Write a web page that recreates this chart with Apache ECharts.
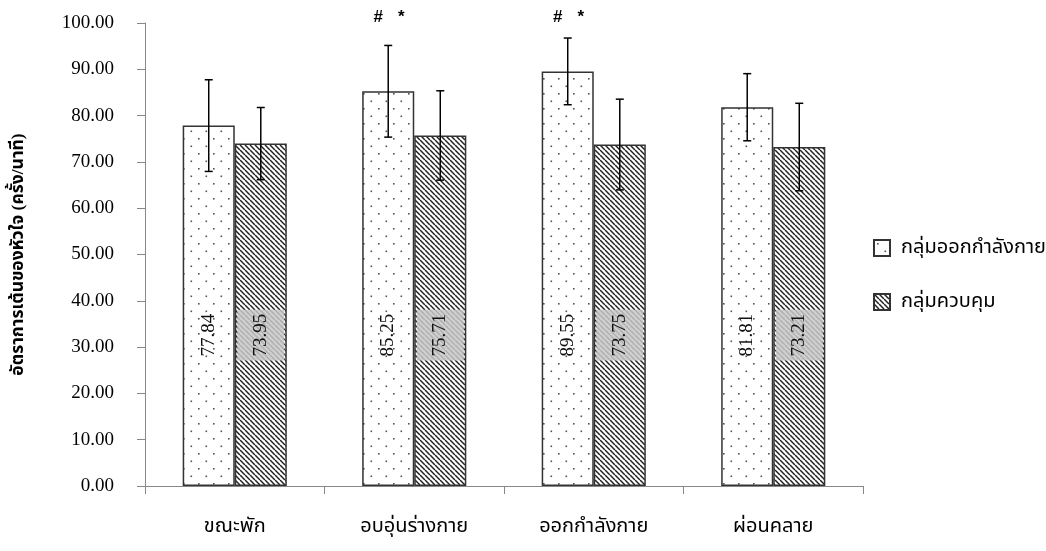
<!DOCTYPE html>
<html>
<head>
<meta charset="utf-8">
<script src="https://cdn.jsdelivr.net/npm/echarts@6/dist/echarts.min.js"></script>
<style>html,body{margin:0;padding:0;background:#fff}#c{width:1046px;height:551px}</style>
</head>
<body>
<div id="c"></div>
<script>
var categories = ['ขณะพัก', 'อบอุ่นร่างกาย', 'ออกกำลังกาย', 'ผ่อนคลาย'];
var seriesNames = ['กลุ่มออกกำลังกาย', 'กลุ่มควบคุม'];
var exerciseMean = [77.84, 85.25, 89.55, 81.81];
var controlMean = [73.95, 75.71, 73.75, 73.21];
var exerciseSD = [9.9, 9.9, 7.2, 7.25];
var controlSD = [7.8, 9.65, 9.8, 9.45];
var annotations = ['', '# *', '# *', ''];
var yTicks = [0, 10, 20, 30, 40, 50, 60, 70, 80, 90, 100];

var FONT = "'Liberation Serif', 'Times New Roman', 'Noto Sans Thai', 'Loma', serif";

function dotPattern() {
  var c = document.createElement('canvas');
  c.width = 15; c.height = 15;
  var g = c.getContext('2d');
  g.fillStyle = '#fff'; g.fillRect(0, 0, 15, 15);
  g.fillStyle = '#555';
  g.fillRect(3, 3, 1.6, 1.6);
  g.fillRect(10.5, 10.5, 1.6, 1.6);
  return c;
}
function hatchPattern() {
  var c = document.createElement('canvas');
  c.width = 5; c.height = 5;
  var g = c.getContext('2d');
  g.fillStyle = '#fff'; g.fillRect(0, 0, 5, 5);
  g.strokeStyle = '#222'; g.lineWidth = 1.5;
  [-5, 0, 5].forEach(function (o) {
    g.beginPath(); g.moveTo(o, 0); g.lineTo(o + 5, 5); g.stroke();
  });
  return c;
}

var chart = echarts.init(document.getElementById('c'));
var barGapRatio = 0.42;

function errorRender(seriesIdx) {
  return function (params, api) {
    var i = api.value(0);
    var m = api.value(1), s = api.value(2);
    var catW = api.size([1, 0])[0];
    var bw = catW * (1 - barGapRatio) / 2;
    var base = api.coord([i, m]);
    var x = base[0] + (seriesIdx === 0 ? -bw / 2 : bw / 2);
    var top = api.coord([i, m + s])[1];
    var bot = api.coord([i, m - s])[1];
    var cap = 4;
    var st = { stroke: '#000', lineWidth: 1.5 };
    var children = [
      { type: 'line', shape: { x1: x, y1: top, x2: x, y2: bot }, style: st },
      { type: 'line', shape: { x1: x - cap, y1: top, x2: x + cap, y2: top }, style: st },
      { type: 'line', shape: { x1: x - cap, y1: bot, x2: x + cap, y2: bot }, style: st }
    ];
    var ann = annotations[i];
    if (seriesIdx === 0 && ann) {
      var parts = ann.split(' ');
      var ay = api.coord([i, 101.2])[1];
      var f = "bold 17px 'Liberation Sans', Arial, sans-serif";
      children.push({ type: 'text', style: { text: parts[0], x: x - 10, y: ay, align: 'center', verticalAlign: 'middle', font: f, fill: '#000' } });
      children.push({ type: 'text', style: { text: parts[1], x: x + 13, y: ay, align: 'center', verticalAlign: 'middle', font: f, fill: '#000' } });
    }
    return { type: 'group', children: children };
  };
}

var labelCommon = {
  show: true, position: 'insideBottom', distance: 151, rotate: 90,
  align: 'center', verticalAlign: 'middle',
  fontFamily: FONT, fontSize: 19, color: '#111',
  formatter: function (p) { return p.value.toFixed(2); }
};

chart.setOption({
  animation: false,
  backgroundColor: '#fff',
  grid: { left: 145, right: 183, top: 23, bottom: 65 },
  legend: {
    orient: 'vertical', left: 868, top: 233, itemWidth: 16, itemHeight: 16, itemGap: 34,
    icon: 'rect',
    textStyle: { fontFamily: FONT, fontSize: 20, color: '#000', padding: [0, 0, 0, 6] },
    data: seriesNames
  },
  xAxis: {
    type: 'category', data: categories,
    axisLine: { lineStyle: { color: '#888', width: 1 } },
    axisTick: { show: true, length: 8, lineStyle: { color: '#888' } },
    axisLabel: { margin: 31, fontFamily: FONT, fontSize: 20, color: '#000' }
  },
  yAxis: {
    type: 'value', min: 0, max: 100, interval: 10,
    name: 'อัตราการเต้นของหัวใจ (ครั้ง/นาที)', nameLocation: 'middle', nameGap: 118,
    nameTextStyle: { fontFamily: FONT, fontSize: 17.5, fontWeight: 'bold', color: '#000' },
    axisLine: { show: true, lineStyle: { color: '#888', width: 1 } },
    axisTick: { show: true, length: 8, lineStyle: { color: '#888' } },
    splitLine: { show: false },
    axisLabel: { margin: 31, fontFamily: FONT, fontSize: 19, color: '#000',
      formatter: function (v) { return yTicks.indexOf(v) >= 0 ? v.toFixed(2) : ''; } }
  },
  series: [
    {
      name: seriesNames[0], type: 'bar', data: exerciseMean,
      barGap: '0%', barCategoryGap: '42%',
      itemStyle: { color: { image: dotPattern(), repeat: 'repeat' }, borderColor: '#333', borderWidth: 1.5 },
      label: labelCommon
    },
    {
      name: seriesNames[1], type: 'bar', data: controlMean,
      barGap: '0%', barCategoryGap: '42%',
      itemStyle: { color: { image: hatchPattern(), repeat: 'repeat' }, borderColor: '#333', borderWidth: 1.5 },
      label: Object.assign({}, labelCommon, { backgroundColor: 'rgba(200,200,200,0.85)', padding: [14, 4] })
    },
    {
      type: 'custom', renderItem: errorRender(0), clip: false, z: 10,
      data: exerciseMean.map(function (m, i) { return [i, m, exerciseSD[i]]; })
    },
    {
      type: 'custom', renderItem: errorRender(1), clip: false, z: 10,
      data: controlMean.map(function (m, i) { return [i, m, controlSD[i]]; })
    }
  ]
});
</script>
</body>
</html>
